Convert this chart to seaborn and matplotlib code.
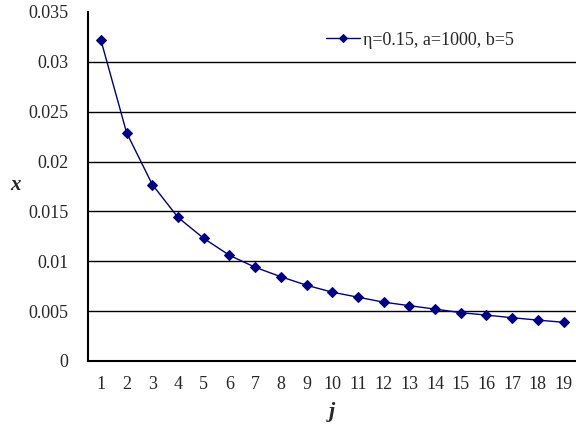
import numpy as np
import pandas as pd
import seaborn as sns
import matplotlib.pyplot as plt

j_vals = list(range(1, 20))
x_vals = [0.0322, 0.0229, 0.0177, 0.0144, 0.0123, 0.0106, 0.0094, 0.00845, 0.0076,
          0.0069, 0.0064, 0.0059, 0.00555, 0.0052, 0.00485, 0.0046, 0.00434, 0.0041, 0.00388]
series_name = 'η=0.15, a=1000, b=5'

df = pd.DataFrame({'j': j_vals, 'x': x_vals, 'series': series_name})

sns.set_style('white')
plt.rcParams['font.family'] = ['Liberation Serif', 'DejaVu Serif']

fig = plt.figure(figsize=(5.76, 4.24), dpi=100)
ax = fig.add_axes([0.1528, 0.1486, 0.848, 0.8231])

sns.lineplot(data=df, x='j', y='x', hue='series', palette=['#000080'], marker='D',
             markersize=5, markeredgecolor='#000080', linewidth=1.0, ax=ax)

ax.set_xlim(0.5, 19.5)
ax.set_ylim(0, 0.035)
ax.set_yticks(np.arange(0, 0.0351, 0.005))
ax.set_yticklabels(['0', '0.005', '0.01', '0.015', '0.02', '0.025', '0.03', '0.035'])
ax.set_xticks(j_vals)
ax.set_xticks([v + 0.5 for v in j_vals[:-1]], minor=True)
ax.tick_params(axis='x', which='major', length=0, pad=11, labelsize=13)
ax.tick_params(axis='x', which='minor', direction='in', length=6, width=1, color='black')
ax.tick_params(axis='y', length=0, pad=14, labelsize=13)

ax.yaxis.grid(True, color='black', linewidth=1.0)
ax.get_ygridlines()[-1].set_visible(False)
ax.set_axisbelow(True)
for s in ['top', 'right']:
    ax.spines[s].set_visible(False)
for s in ['left', 'bottom']:
    ax.spines[s].set_color('black')
    ax.spines[s].set_linewidth(1.5)

ax.set_xlabel('j', fontsize=16, fontweight='bold', style='italic', labelpad=6)
ax.set_ylabel('x', fontsize=15, fontweight='bold', style='italic', rotation=0,
              va='center', ha='center')
ax.yaxis.set_label_coords(-0.149, 0.504)

leg = ax.legend(loc='upper right', bbox_to_anchor=(0.905, 0.99), frameon=False,
                fontsize=13, handlelength=1.9, handletextpad=0.15, markerscale=0.8)

fig.savefig('out.png', dpi=100)
